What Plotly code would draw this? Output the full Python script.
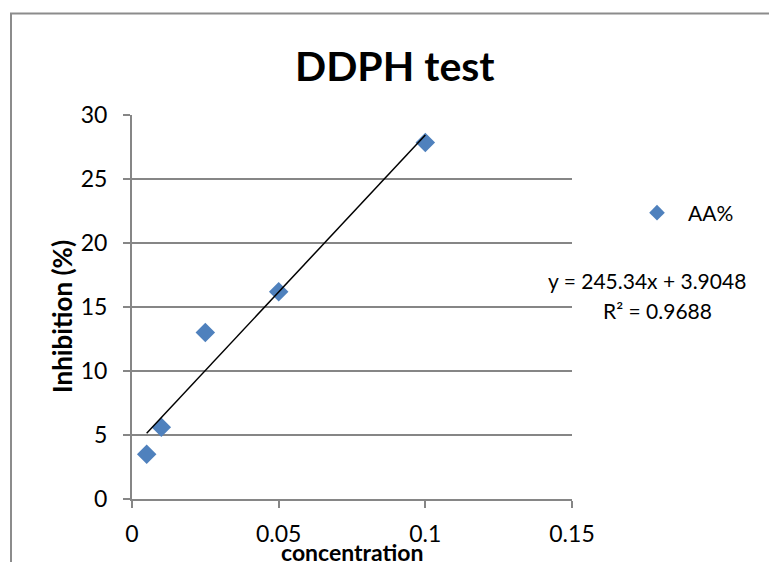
import plotly.graph_objects as go

# Data
concentration = [0.005, 0.01, 0.025, 0.05, 0.1]
inhibition = [3.5, 5.6, 13.0, 16.2, 27.85]
series_name = "AA%"
slope = 245.34
intercept = 3.9048
r2 = 0.9688
x_ticks = [0, 0.05, 0.1, 0.15]
x_tick_labels = ["0", "0.05", "0.1", "0.15"]
y_ticks = [0, 5, 10, 15, 20, 25, 30]

W, H = 769, 562
L, R, T, B = 132, 572, 115, 499  # plot area in pixels
FONT = "Lato"
GRID = "#868686"
BLUE = "#4F81BD"

def px_x(p):
    return (p - L) / (R - L)

def px_y(p):
    return (B - p) / (B - T)

trend_x = [concentration[0], concentration[-1]]
trend_y = [slope * v + intercept for v in trend_x]

fig = go.Figure()
fig.add_trace(go.Scatter(
    x=concentration, y=inhibition, mode="markers", name=series_name,
    marker=dict(symbol="diamond", size=15, color=BLUE, line=dict(width=0)),
))
fig.add_trace(go.Scatter(
    x=trend_x, y=trend_y, mode="lines", showlegend=False,
    line=dict(color="black", width=1.5), hoverinfo="skip",
))

fig.update_layout(
    width=W, height=H,
    margin=dict(l=L, r=W - R, t=T, b=H - B, pad=0),
    paper_bgcolor="white", plot_bgcolor="white",
    font=dict(family=FONT, size=20, color="black"),
    showlegend=True,
    legend=dict(x=px_x(626), y=px_y(213), xanchor="left", yanchor="middle",
                font=dict(size=21, family=FONT), bgcolor="rgba(0,0,0,0)",
                itemsizing="constant", itemwidth=52),
    xaxis=dict(range=[0, 0.15], tickvals=x_ticks, ticktext=x_tick_labels,
               showgrid=False, zeroline=False, showline=True, linecolor=GRID,
               linewidth=2, ticks="outside", ticklen=7, tickcolor=GRID, tickwidth=2,
               tickfont=dict(size=23, family=FONT), ticklabelstandoff=6),
    yaxis=dict(range=[0, 30], tickvals=y_ticks, showgrid=True, gridcolor=GRID,
               gridwidth=2, zeroline=False, showline=True, linecolor=GRID,
               linewidth=2, ticks="outside", ticklen=7, tickcolor=GRID, tickwidth=2,
               tickfont=dict(size=23, family=FONT), ticklabelstandoff=11),
    shapes=[dict(type="rect", xref="paper", yref="paper",
                 x0=px_x(11), x1=px_x(790), y0=px_y(600), y1=px_y(13.5),
                 line=dict(color="#8c8c8c", width=2), fillcolor="rgba(0,0,0,0)",
                 layer="below")],
    annotations=[
        dict(text="<b>DDPH test</b>", xref="paper", yref="paper",
             x=px_x(395), y=px_y(66), xanchor="center", yanchor="middle",
             showarrow=False, font=dict(size=41, family=FONT)),
        dict(text="<b>concentration</b>", xref="paper", yref="paper",
             x=px_x(352), y=px_y(552), xanchor="center", yanchor="middle",
             showarrow=False, font=dict(size=23, family=FONT)),
        dict(text="<b>Inhibition (%)</b>", xref="paper", yref="paper",
             x=px_x(62), y=px_y(317), xanchor="center", yanchor="middle",
             textangle=-90, showarrow=False, font=dict(size=26, family=FONT)),
        dict(text=f"y = {slope}x + {intercept}", xref="paper", yref="paper",
             x=px_x(647), y=px_y(280), xanchor="center", yanchor="middle",
             showarrow=False, font=dict(size=21, family=FONT)),
        dict(text=f"R² = {r2}", xref="paper", yref="paper",
             x=px_x(657), y=px_y(310), xanchor="center", yanchor="middle",
             showarrow=False, font=dict(size=21, family=FONT)),
    ],
)

fig.write_html("out.html")
